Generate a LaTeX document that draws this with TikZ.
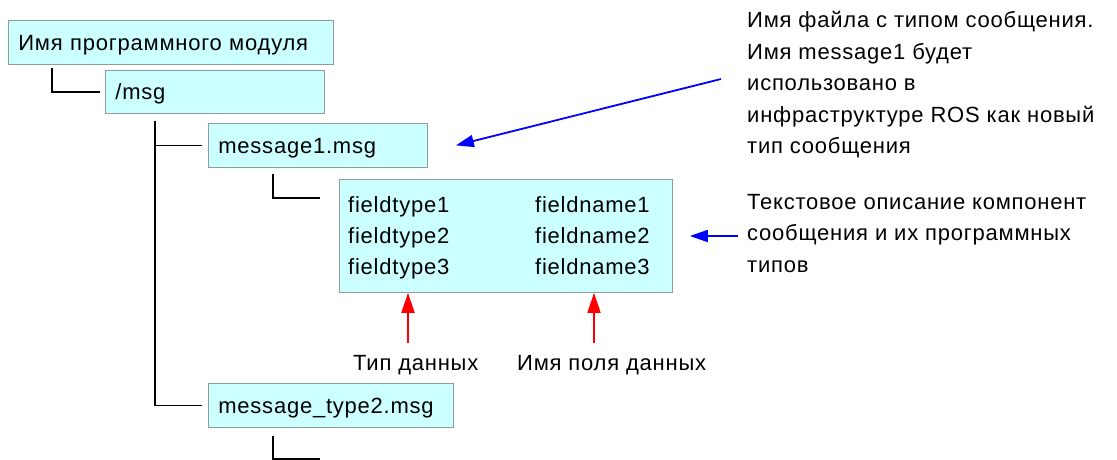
\documentclass[tikz,border=0pt]{standalone}
\usepackage{fontspec}
\setmainfont[LetterSpace=3.5]{Liberation Sans}
\usetikzlibrary{arrows.meta,calc}
\definecolor{boxfill}{HTML}{CCFFFF}
\definecolor{boxedge}{HTML}{8E9C9C}
\definecolor{noteblue}{HTML}{0000FF}
\definecolor{notered}{HTML}{FF0000}
\begin{document}
\begin{tikzpicture}[x=1pt,y=-1pt,
  txt/.style={font=\fontsize{22}{31.5}\selectfont},
  filebox/.style={txt, draw=boxedge, fill=boxfill, line width=0.8pt,
    inner xsep=10pt, inner ysep=0pt, minimum height=44pt,
    text height=16pt, text depth=0pt, align=left, anchor=north west},
  field/.style={txt, anchor=base west, inner sep=0pt},
  note/.style={txt, anchor=north west, inner sep=0pt, align=left},
  tree/.style={line width=1.4pt, black},
  bluearrow/.style={draw=noteblue, line width=1.8pt, -{Triangle[length=18pt,width=12pt]}},
  redarrow/.style={draw=notered, line width=1.8pt, -{Triangle[length=20pt,width=13pt]}},
]
\useasboundingbox (0,0) rectangle (1117,459);

% directory tree
\node[filebox, text width=305pt] (root) at (8,20) {Имя программного модуля};
\node[filebox, text width=199pt, minimum height=43pt] (msg) at (105,70) {/msg};
\node[filebox, text width=199pt] (m1) at (208,123) {message1.msg};
\node[filebox, text width=225pt] (m2) at (208,383) {message\_type2.msg};
\node[draw=boxedge, fill=boxfill, line width=0.8pt, inner sep=0pt,
      minimum width=333pt, minimum height=113pt, anchor=north west] (fields) at (339,179) {};

% contents of message1.msg
\node[field] (t1) at (348,212) {fieldtype1};
\node[field] (t2) at (348,243) {fieldtype2};
\node[field] (t3) at (348,274) {fieldtype3};
\node[field] (f1) at (535,212) {fieldname1};
\node[field] (f2) at (535,243) {fieldname2};
\node[field] (f3) at (535,274) {fieldname3};

% tree connectors
\draw[tree] ($(root.south west)+(44,3)$) |- ($(msg.west)+(-5,0)$);
\draw[tree] ($(msg.south west)+(50,7)$) |- ($(m1.west)+(-6,0)$);
\draw[tree] ($(msg.south west)+(50,7)$) |- ($(m2.west)+(-6,0)$);
\draw[tree] ($(m1.south west)+(65,6)$) |- ($(fields.north west)+(-19,19)$);
\coordinate (more) at ($(m2.south west)+(112,31)$);
\draw[tree] ($(m2.south west)+(65,8)$) |- (more);

% captions under the fields
\node[field] (typelbl) at (353,370) {Тип данных};
\node[field] (namelbl) at (517,370) {Имя поля данных};
\coordinate (ta) at (408,343);
\coordinate (na) at (594,343);
\draw[redarrow] (ta) -- (ta |- fields.south);
\draw[redarrow] (na) -- (na |- fields.south);

% notes on the right
\node[note] (note1) at (747,11) {Имя файла с типом сообщения.\\
Имя message1 будет\\
использовано в\\
инфраструктуре ROS как новый\\
тип сообщения};
\node[note] (note2) at (747,194) {Текстовое описание компонент\\
сообщения и их программных\\
типов};
\coordinate (n1) at (721,79);
\coordinate (n2) at (738,236);
\draw[bluearrow] (n1) -- ($(m1.east)+(28,0)$);
\draw[bluearrow] (n2) -- (n2 -| {$(fields.east)+(17,0)$});
\end{tikzpicture}
\end{document}
